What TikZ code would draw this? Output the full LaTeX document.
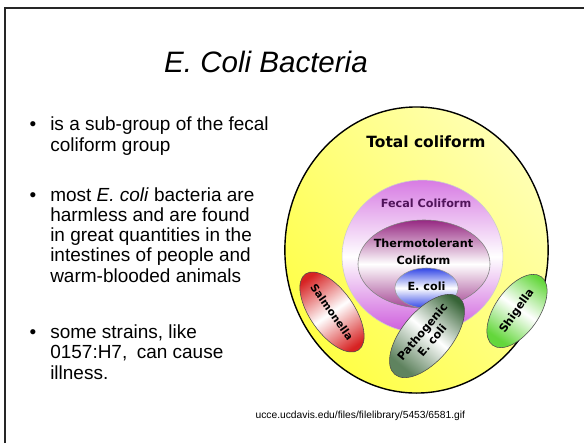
\documentclass[tikz,border=0pt]{standalone}
\usepackage{fontspec}
\setmainfont{Liberation Sans}
\newfontfamily\diagfont{DejaVu Sans}
\usetikzlibrary{shapes.geometric}
\definecolor{coliyellow}{RGB}{255,255,70}
\definecolor{fecalviolet}{RGB}{205,90,220}
\definecolor{thermomag}{RGB}{150,40,130}
\definecolor{ecoliblue}{RGB}{50,70,230}
\definecolor{salmred}{RGB}{215,35,35}
\definecolor{pathgreen}{RGB}{55,100,55}
\definecolor{shiggreen}{RGB}{100,215,60}
\definecolor{fecaltext}{RGB}{80,20,90}

\begin{document}
\begin{tikzpicture}[x=0.025cm, y=-0.025cm,
    bullet/.style={anchor=base west, inner sep=0pt, align=left, font=\fontsize{13.5}{14.4}\selectfont},
    blob/.style={ellipse, inner sep=0pt},
    germ/.style={ellipse, draw=black!70, thin, inner sep=0pt, minimum width=2.2cm, minimum height=1.1cm, align=center, font=\diagfont\bfseries\fontsize{8}{9}\selectfont},
    lab/.style={inner sep=0pt, align=center, font=\diagfont\bfseries\fontsize{8}{12}\selectfont}
]
\useasboundingbox (0,0) rectangle (584,443);

% Slide frame
\draw[line width=1.4pt, black!85] (5,443) -- (5,8) -- (584,8);

% === TITLE ===
\node (title) [anchor=base, font=\itshape\fontsize{21}{25}\selectfont] at (266,72) {E. Coli Bacteria};

% === BULLETS === (anchored at the last line)
\node (item1) [bullet] at (50,151) {\llap{\textbullet\hspace{10pt}}is a sub-group of the fecal\\coliform group};
\node (item2) [bullet] at (50,282) {\llap{\textbullet\hspace{10pt}}most \textit{E. coli} bacteria are\\harmless and are found\\in great quantities in the\\intestines of people and\\warm-blooded animals};
\node (item3) [bullet] at (50,379) {\llap{\textbullet\hspace{10pt}}some strains, like\\0157:H7,\enspace can cause\\illness.};

% === NESTED GROUPS ===
\node (total) [blob, draw=black, line width=1pt, minimum width=6.58cm, minimum height=7.15cm, top color=yellow!30, bottom color=coliyellow, shading angle=-50] at (416.5,250) {};
\node (fecal) [blob, draw=black!20, minimum width=4.02cm, minimum height=3.82cm, top color=fecalviolet!80, bottom color=fecalviolet, middle color=white] at (422.5,256.5) {};
\node (thermo) [blob, draw=black!50, minimum width=3.3cm, minimum height=2.2cm, top color=thermomag, bottom color=thermomag!85, middle color=white] at (424,264) {};
\node (ecoli) [blob, draw=black!40, minimum width=1.58cm, minimum height=1cm, top color=ecoliblue, bottom color=ecoliblue, middle color=white] at (426.5,288) {};

% Labels
\node (totallab) [lab, font=\diagfont\bfseries\fontsize{11}{13}\selectfont] at (426,142) {Total coliform};
\node (fecallab) [lab, text=fecaltext] at (426,203) {Fecal Coliform};
\node (thermolab) [lab] at (423.5,251.5) {Thermotolerant\\Coliform};
\node (ecolilab) [lab] at (426.5,286) {E. coli};

% === OTHER PATHOGENS ===
\node (salmonella) [germ, rotate=-55, top color=salmred, bottom color=salmred, middle color=white, shading angle=35, font=\diagfont\bfseries\fontsize{7.5}{9}\selectfont] at (332,312) {Salmonella};
\node (shigella) [germ, rotate=55, minimum width=2.1cm, top color=shiggreen, bottom color=shiggreen, middle color=white, shading angle=-35] at (517,311) {Shigella};
\node (pathogenic) [germ, rotate=50, minimum height=1.25cm, top color=pathgreen, bottom color=pathgreen!80, middle color=white, shading angle=-40] at (427,336) {Pathogenic\\E. coli};

% Source
\node (source) [anchor=base east, font=\fontsize{7.3}{9}\selectfont] at (470,418) {ucce.ucdavis.edu/files/filelibrary/5453/6581.gif};

\end{tikzpicture}
\end{document}
